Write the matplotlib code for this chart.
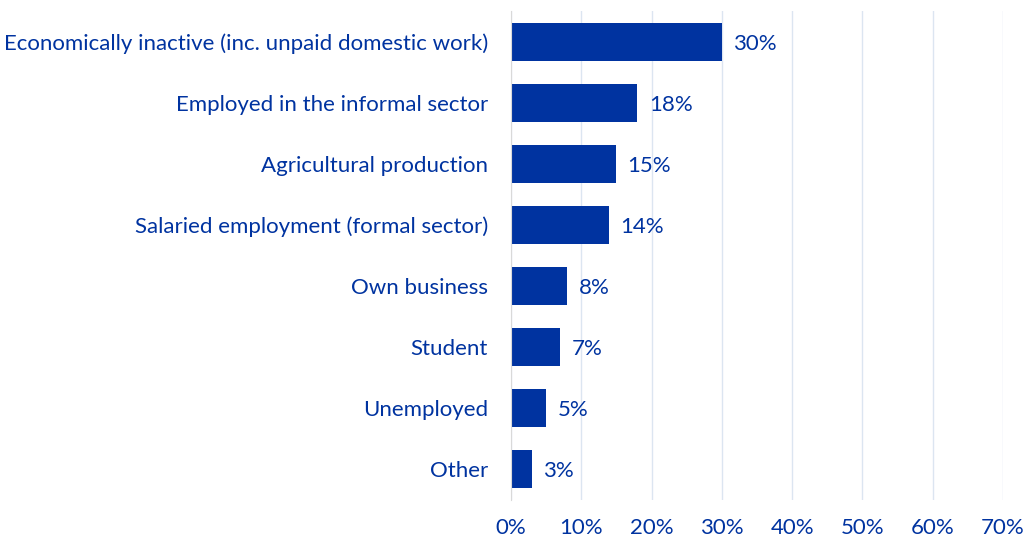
import matplotlib
matplotlib.use("Agg")
import matplotlib.pyplot as plt
from matplotlib.ticker import MultipleLocator, FuncFormatter

categories = [
    "Economically inactive (inc. unpaid domestic work)",
    "Employed in the informal sector",
    "Agricultural production",
    "Salaried employment (formal sector)",
    "Own business",
    "Student",
    "Unemployed",
    "Other",
]
shares = [30, 18, 15, 14, 8, 7, 5, 3]

BLUE = "#0033A0"
GRID = "#DCE5F1"

plt.rcParams["font.family"] = ["Lato", "DejaVu Sans"]

fig = plt.figure(figsize=(10.25, 5.42), dpi=100)
ax = fig.add_axes([0.4985, 0.0784, 0.4800, 0.9004])

y = list(range(len(categories)))
ax.barh(y, shares, height=0.62, color=BLUE, zorder=3)
ax.set_ylim(len(categories) - 0.5, -0.5)
ax.set_xlim(0, 70)

for yi, v in zip(y, shares):
    ax.text(v + 1.6, yi + 0.04, f"{v:.0f}%", va="center", ha="left",
            color=BLUE, fontsize=16)

ax.xaxis.set_major_locator(MultipleLocator(10))
ax.xaxis.set_major_formatter(FuncFormatter(lambda x, p: f"{x:.0f}%"))
ax.set_yticks(y)
ax.set_yticklabels(categories)
ax.tick_params(axis="both", length=0, labelcolor=BLUE, labelsize=16)
ax.tick_params(axis="x", pad=13)
ax.tick_params(axis="y", pad=16.5)

ax.grid(axis="x", color=GRID, linewidth=1, zorder=0)
for s in ["top", "right", "bottom"]:
    ax.spines[s].set_visible(False)
ax.spines["left"].set_color("#D9D9D9")
ax.spines["left"].set_zorder(4)

fig.savefig("out.png", dpi=100)
